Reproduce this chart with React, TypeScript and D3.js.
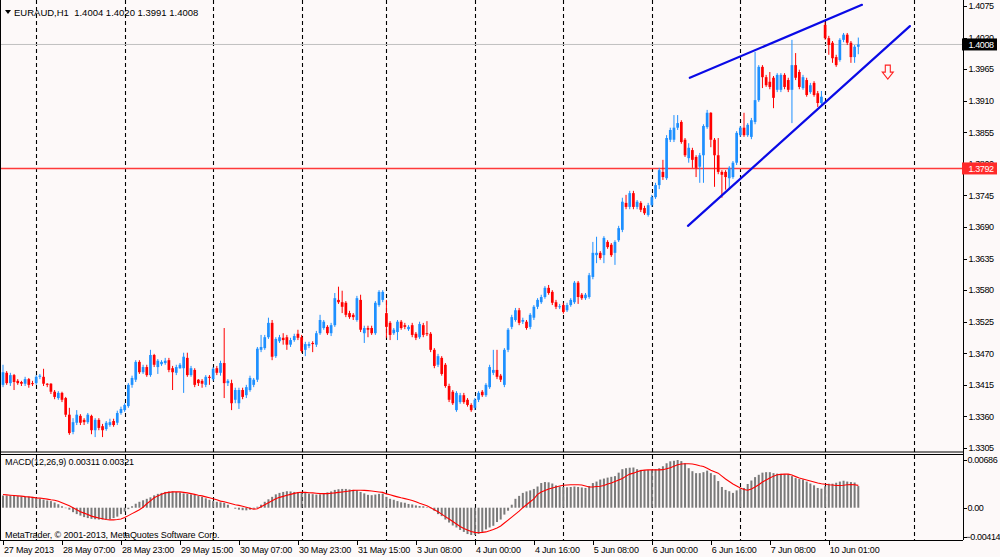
import React, { useEffect, useRef } from "react";
import * as d3 from "d3";

// EURAUD H1 bars, left to right
const opens = [
  1.3415, 1.3436, 1.3418, 1.3432, 1.3422, 1.342, 1.3417, 1.3425, 1.3418, 1.3418,
  1.3429, 1.3429, 1.3417, 1.3417, 1.3403, 1.3392, 1.3401, 1.3392, 1.3363, 1.3333,
  1.3349, 1.3361, 1.3354, 1.335, 1.3361, 1.3336, 1.3354, 1.3343, 1.3338, 1.3345,
  1.3352, 1.3349, 1.3366, 1.3371, 1.3378, 1.3415, 1.3424, 1.3455, 1.3437, 1.3446,
  1.3432, 1.3467, 1.3446, 1.3451, 1.3453, 1.3458, 1.3444, 1.3436, 1.3444, 1.3444,
  1.3462, 1.3432, 1.3441, 1.3424, 1.3422, 1.3415, 1.3429, 1.3425, 1.3444, 1.3436,
  1.3453, 1.3418, 1.3418, 1.3389, 1.3383, 1.3406, 1.3397, 1.3406, 1.3415, 1.3424,
  1.3476, 1.3479, 1.3498, 1.3523, 1.3465, 1.3491, 1.3497, 1.3498, 1.3485, 1.3493,
  1.3504, 1.3498, 1.3476, 1.3483, 1.3488, 1.3485, 1.3505, 1.3514, 1.3516, 1.3505,
  1.3519, 1.3563, 1.3559, 1.3558, 1.354, 1.3537, 1.3528, 1.3563, 1.3505, 1.3514,
  1.3514, 1.3505, 1.3554, 1.3563, 1.354, 1.3523, 1.3505, 1.3507, 1.3525, 1.3519,
  1.3512, 1.3519, 1.3504, 1.3498, 1.3519, 1.3505, 1.3504, 1.3476, 1.345, 1.3462,
  1.345, 1.3413, 1.3403, 1.3371, 1.3385, 1.3397, 1.3389, 1.338, 1.3375, 1.3389,
  1.3403, 1.3397, 1.3411, 1.3436, 1.3441, 1.3431, 1.3415, 1.3476, 1.3516, 1.3528,
  1.3545, 1.3525, 1.3525, 1.3516, 1.3532, 1.3551, 1.3559, 1.3568, 1.3584, 1.3577,
  1.3559, 1.3551, 1.3554, 1.3545, 1.3554, 1.3559, 1.3593, 1.3572, 1.3566, 1.3568,
  1.3603, 1.3641, 1.3645, 1.3641, 1.3664, 1.3659, 1.3645, 1.3667, 1.3685, 1.3732,
  1.3725, 1.3749, 1.3725, 1.3732, 1.3723, 1.3711, 1.3728, 1.3742, 1.3763, 1.3786,
  1.3775, 1.3842, 1.3842, 1.3863, 1.3873, 1.3842, 1.381, 1.3824, 1.3812, 1.3795,
  1.3815, 1.3864, 1.3889, 1.3842, 1.3815, 1.3786, 1.3786, 1.3775, 1.3777, 1.3802,
  1.385, 1.3863, 1.385, 1.3847, 1.3873, 1.3911, 1.3969, 1.3951, 1.3943, 1.395,
  1.3929, 1.3929, 1.3955, 1.3946, 1.3929, 1.3972, 1.396, 1.3932, 1.3946, 1.3925,
  1.3941, 1.3923, 1.3906, 1.4042, 1.4019, 1.4011, 1.3986, 1.3981, 1.4016, 1.4025,
  1.4011, 1.3986, 1.4004,
];

const highs = [
  1.345, 1.3439, 1.3436, 1.3434, 1.3425, 1.3422, 1.3429, 1.3427, 1.3422, 1.3432,
  1.3434, 1.3443, 1.3418, 1.3418, 1.3406, 1.3404, 1.3403, 1.3394, 1.3375, 1.3357,
  1.3371, 1.3364, 1.3357, 1.3366, 1.3363, 1.3357, 1.3357, 1.3347, 1.3352, 1.3356,
  1.3356, 1.337, 1.3377, 1.3383, 1.3418, 1.3431, 1.3458, 1.3458, 1.345, 1.345,
  1.3476, 1.3469, 1.346, 1.3458, 1.3462, 1.3462, 1.3448, 1.345, 1.3453, 1.3471,
  1.3471, 1.3448, 1.3444, 1.3425, 1.3425, 1.3432, 1.3432, 1.3446, 1.3448, 1.3457,
  1.3514, 1.3425, 1.3424, 1.341, 1.341, 1.341, 1.3415, 1.3431, 1.3427, 1.3481,
  1.3502, 1.3502, 1.3532, 1.3528, 1.3498, 1.3502, 1.3505, 1.3502, 1.3497, 1.3504,
  1.3511, 1.3502, 1.349, 1.349, 1.3491, 1.3509, 1.3537, 1.3528, 1.3519, 1.3523,
  1.3575, 1.3586, 1.3579, 1.3561, 1.3544, 1.354, 1.357, 1.3572, 1.3518, 1.3518,
  1.3518, 1.3561, 1.358, 1.358, 1.3563, 1.3526, 1.3514, 1.3528, 1.3528, 1.3523,
  1.3519, 1.3523, 1.3507, 1.3525, 1.3523, 1.3526, 1.3507, 1.3479, 1.3469, 1.3465,
  1.3453, 1.3417, 1.3406, 1.3404, 1.3401, 1.3401, 1.3392, 1.3383, 1.3392, 1.3404,
  1.3406, 1.3418, 1.345, 1.3476, 1.3476, 1.3434, 1.3479, 1.3514, 1.3537, 1.3549,
  1.3549, 1.3532, 1.3528, 1.354, 1.3554, 1.3566, 1.3572, 1.3587, 1.3589, 1.358,
  1.3563, 1.3556, 1.3558, 1.3558, 1.3566, 1.3596, 1.3596, 1.3575, 1.3575, 1.361,
  1.3664, 1.3673, 1.3648, 1.3674, 1.3667, 1.3662, 1.3667, 1.3692, 1.3741, 1.3746,
  1.3753, 1.3753, 1.3737, 1.3735, 1.3727, 1.3732, 1.3746, 1.3767, 1.3793, 1.3807,
  1.385, 1.3863, 1.3885, 1.3885, 1.3876, 1.3845, 1.3836, 1.3828, 1.3815, 1.3819,
  1.3869, 1.3894, 1.389, 1.3845, 1.3845, 1.3789, 1.3789, 1.3796, 1.3805, 1.3857,
  1.3866, 1.3889, 1.3871, 1.388, 1.3995, 1.3972, 1.3972, 1.3955, 1.396, 1.3953,
  1.3958, 1.3958, 1.3958, 1.395, 1.4016, 1.3993, 1.3964, 1.3955, 1.395, 1.3941,
  1.3944, 1.3927, 1.3927, 1.4047, 1.4023, 1.4014, 1.399, 1.4019, 1.4028, 1.4028,
  1.4014, 1.4007, 1.402,
];

const lows = [
  1.3411, 1.3415, 1.3413, 1.3406, 1.3415, 1.3413, 1.3413, 1.341, 1.3413, 1.3415,
  1.3425, 1.3413, 1.3411, 1.3399, 1.339, 1.3389, 1.3385, 1.3359, 1.3328, 1.3329,
  1.3345, 1.3345, 1.3345, 1.3347, 1.3329, 1.3324, 1.3336, 1.3324, 1.3335, 1.3342,
  1.3342, 1.3345, 1.3363, 1.3368, 1.3375, 1.341, 1.342, 1.3434, 1.3434, 1.3429,
  1.3429, 1.3446, 1.3434, 1.3448, 1.345, 1.3437, 1.3406, 1.3432, 1.3443, 1.3401,
  1.3429, 1.3429, 1.3411, 1.3413, 1.341, 1.3411, 1.3415, 1.3422, 1.3432, 1.3431,
  1.3392, 1.3413, 1.3371, 1.3383, 1.3373, 1.339, 1.3392, 1.3403, 1.3411, 1.342,
  1.3472, 1.3476, 1.3495, 1.3458, 1.3462, 1.3488, 1.3485, 1.3476, 1.3481, 1.349,
  1.3493, 1.3471, 1.3465, 1.3479, 1.3472, 1.3481, 1.3502, 1.3511, 1.3502, 1.35,
  1.3516, 1.3556, 1.354, 1.3533, 1.353, 1.3528, 1.3525, 1.3507, 1.3488, 1.3498,
  1.3502, 1.3502, 1.3551, 1.3559, 1.3497, 1.3493, 1.3502, 1.3493, 1.3511, 1.3512,
  1.3509, 1.3498, 1.3493, 1.3495, 1.3498, 1.35, 1.3472, 1.3444, 1.3446, 1.3431,
  1.341, 1.3385, 1.338, 1.3368, 1.3382, 1.3382, 1.3377, 1.3368, 1.3371, 1.3385,
  1.3394, 1.3394, 1.3408, 1.3432, 1.3425, 1.342, 1.3411, 1.3472, 1.3512, 1.3525,
  1.3519, 1.3521, 1.3511, 1.3512, 1.3528, 1.3547, 1.3556, 1.3565, 1.3572, 1.3554,
  1.3547, 1.3547, 1.3539, 1.3542, 1.3551, 1.3556, 1.3556, 1.3563, 1.3563, 1.3565,
  1.3599, 1.3627, 1.3633, 1.3627, 1.3652, 1.3638, 1.3624, 1.3664, 1.3681, 1.3721,
  1.3721, 1.3721, 1.3721, 1.3716, 1.3711, 1.3708, 1.3725, 1.3739, 1.3756, 1.3772,
  1.3772, 1.3838, 1.3838, 1.3859, 1.3835, 1.3812, 1.3802, 1.3793, 1.3777, 1.3767,
  1.3767, 1.3861, 1.3829, 1.376, 1.3782, 1.3741, 1.3755, 1.3755, 1.3774, 1.3798,
  1.3847, 1.3847, 1.3847, 1.3843, 1.3869, 1.3908, 1.3932, 1.3934, 1.393, 1.3897,
  1.3925, 1.3925, 1.393, 1.3925, 1.3871, 1.3946, 1.393, 1.3929, 1.3917, 1.3922,
  1.3917, 1.3899, 1.3903, 1.4016, 1.399, 1.3976, 1.3969, 1.3978, 1.4012, 1.4007,
  1.3976, 1.3976, 1.3991,
];

const closes = [
  1.3437, 1.3418, 1.3432, 1.342, 1.3418, 1.3417, 1.3425, 1.3415, 1.3417, 1.3429,
  1.3431, 1.3417, 1.3415, 1.3403, 1.3394, 1.3401, 1.3389, 1.3363, 1.3331, 1.335,
  1.3363, 1.3349, 1.335, 1.3363, 1.3336, 1.3354, 1.334, 1.3336, 1.3349, 1.335,
  1.3345, 1.3366, 1.3373, 1.338, 1.3415, 1.3427, 1.3455, 1.3437, 1.3446, 1.3432,
  1.3467, 1.345, 1.3457, 1.3455, 1.3457, 1.3441, 1.3437, 1.3446, 1.345, 1.3464,
  1.3432, 1.3444, 1.3415, 1.3418, 1.3417, 1.3429, 1.3427, 1.3443, 1.3436, 1.3453,
  1.3418, 1.3422, 1.3383, 1.3406, 1.3406, 1.3394, 1.3411, 1.3427, 1.3424, 1.3478,
  1.3481, 1.3498, 1.3523, 1.3464, 1.3495, 1.3498, 1.3493, 1.3485, 1.3493, 1.35,
  1.3497, 1.3474, 1.3486, 1.3486, 1.3486, 1.3505, 1.3528, 1.3525, 1.3505, 1.3519,
  1.3566, 1.3559, 1.3551, 1.3537, 1.3533, 1.3533, 1.3566, 1.3511, 1.3514, 1.3511,
  1.3505, 1.3558, 1.3577, 1.3577, 1.3516, 1.3502, 1.3511, 1.3525, 1.3514, 1.3516,
  1.3516, 1.3502, 1.3497, 1.3521, 1.3502, 1.3504, 1.3476, 1.3448, 1.3465, 1.3434,
  1.3413, 1.3389, 1.3383, 1.3401, 1.3397, 1.3385, 1.338, 1.3371, 1.3389, 1.3401,
  1.3397, 1.3415, 1.3446, 1.3441, 1.3429, 1.3424, 1.3476, 1.3511, 1.3533, 1.3545,
  1.3523, 1.3528, 1.3514, 1.3537, 1.3551, 1.3563, 1.3568, 1.3584, 1.3575, 1.3558,
  1.3551, 1.3552, 1.3542, 1.3554, 1.3563, 1.3593, 1.3568, 1.3566, 1.3572, 1.3606,
  1.3645, 1.3645, 1.3636, 1.3671, 1.3655, 1.3641, 1.3664, 1.3688, 1.3734, 1.3725,
  1.3749, 1.3725, 1.3734, 1.372, 1.3714, 1.3728, 1.3742, 1.3763, 1.3789, 1.3777,
  1.3845, 1.3859, 1.3863, 1.3871, 1.3838, 1.3815, 1.3828, 1.3807, 1.3793, 1.3815,
  1.3866, 1.3889, 1.3842, 1.3815, 1.3786, 1.3781, 1.3777, 1.3793, 1.3802, 1.3854,
  1.3863, 1.385, 1.3868, 1.3876, 1.3911, 1.3969, 1.3951, 1.3937, 1.3934, 1.3915,
  1.3955, 1.3955, 1.3934, 1.3929, 1.3972, 1.395, 1.3934, 1.3951, 1.392, 1.3937,
  1.392, 1.3906, 1.3917, 1.4019, 1.4007, 1.3984, 1.3972, 1.4016, 1.4025, 1.4011,
  1.3986, 1.4004, 1.4008,
];

// MACD(12,26,9): main (histogram) and signal (red line)
const macdMain = [
  0.00175, 0.00175, 0.00175, 0.0017, 0.00166, 0.00163, 0.00159, 0.00156, 0.00156, 0.00142,
  0.00128, 0.00118, 0.00104, 0.00095, 0.00075, 0.0005, 0.00021, -0.00007, -0.00028, -0.00064,
  -0.00092, -0.00114, -0.00135, -0.00149, -0.0016, -0.00166, -0.0017, -0.0017, -0.00168, -0.00163,
  -0.00149, -0.00128, -0.00092, -0.00057, -0.00021, 0.00021, 0.00057, 0.00085, 0.00107, 0.00128,
  0.00149, 0.00178, 0.00199, 0.00213, 0.00227, 0.00234, 0.00234, 0.00227, 0.0022, 0.00206,
  0.00199, 0.00192, 0.00185, 0.0017, 0.00156, 0.00135, 0.00114, 0.00095, 0.00085, 0.00078,
  0.00071, 0.00043, 0.0, -0.00014, -0.00028, -0.00036, -0.00038, -0.00028, -0.00014, 0.00014,
  0.00043, 0.00085, 0.00121, 0.00156, 0.00192, 0.00213, 0.00227, 0.00237, 0.00234, 0.00227,
  0.00223, 0.00217, 0.00213, 0.00203, 0.00195, 0.00189, 0.00192, 0.00203, 0.0022, 0.00234,
  0.00256, 0.00266, 0.0027, 0.0027, 0.00263, 0.00256, 0.00251, 0.00227, 0.00206, 0.00185,
  0.0018, 0.00189, 0.00199, 0.00203, 0.00156, 0.00128, 0.00114, 0.00095, 0.00078, 0.00071,
  0.00054, 0.00047, 0.00033, 0.00024, 0.00021, 0.00007, -0.00007, -0.00043, -0.00092, -0.00121,
  -0.0017, -0.00213, -0.00256, -0.00284, -0.0032, -0.00348, -0.00379, -0.00393, -0.00391, -0.00376,
  -0.00348, -0.00312, -0.00284, -0.0026, -0.00206, -0.0017, -0.00099, -0.00043, 0.00043, 0.00128,
  0.0017, 0.00213, 0.00234, 0.00249, 0.0027, 0.00305, 0.00355, 0.00369, 0.00365, 0.00348,
  0.0032, 0.00305, 0.00298, 0.00294, 0.00298, 0.00305, 0.00298, 0.00291, 0.00284, 0.00312,
  0.00355, 0.00376, 0.00405, 0.00419, 0.00433, 0.00444, 0.00454, 0.00504, 0.00554, 0.00568,
  0.00575, 0.00578, 0.00554, 0.00544, 0.0054, 0.0054, 0.00547, 0.00554, 0.00568, 0.00596,
  0.00639, 0.00667, 0.00675, 0.00686, 0.0067, 0.00639, 0.00568, 0.00525, 0.00497, 0.00497,
  0.00511, 0.00533, 0.00497, 0.00469, 0.00383, 0.00298, 0.00256, 0.00237, 0.00213, 0.00249,
  0.00277, 0.00284, 0.00341, 0.00391, 0.0044, 0.00473, 0.00504, 0.00511, 0.00511, 0.00497,
  0.0049, 0.00487, 0.00483, 0.00483, 0.00454, 0.00426, 0.00412, 0.00405, 0.00376, 0.00348,
  0.00322, 0.00284, 0.00274, 0.00308, 0.00345, 0.00345, 0.00359, 0.00376, 0.00388, 0.00376,
  0.00369, 0.00362, 0.00311,
];

const macdSignal = [
  0.00189, 0.00185, 0.0018, 0.00175, 0.0017, 0.00166, 0.0016, 0.00156, 0.00149, 0.00142,
  0.00138, 0.00132, 0.00124, 0.00114, 0.00107, 0.00092, 0.00071, 0.0005, 0.00028, 0.0,
  -0.00028, -0.00057, -0.00078, -0.00099, -0.00121, -0.00135, -0.00149, -0.0016, -0.0017, -0.00175,
  -0.00175, -0.0017, -0.00163, -0.00142, -0.00114, -0.00085, -0.00057, -0.00028, 0.00007, 0.00057,
  0.00099, 0.00142, 0.0017, 0.00192, 0.00213, 0.0022, 0.00227, 0.0023, 0.00227, 0.0022,
  0.00213, 0.00203, 0.00192, 0.0018, 0.0017, 0.00156, 0.00142, 0.00128, 0.00114, 0.00095,
  0.00085, 0.00071, 0.00057, 0.00043, 0.00033, 0.00021, 0.00007, -0.00007, -0.00021, -0.00014,
  0.00014, 0.00043, 0.00071, 0.00099, 0.00128, 0.00149, 0.00163, 0.00178, 0.00192, 0.00206,
  0.00217, 0.00223, 0.0022, 0.00216, 0.00213, 0.00209, 0.00203, 0.00202, 0.00203, 0.00209,
  0.00213, 0.0022, 0.00227, 0.00234, 0.00241, 0.00249, 0.00251, 0.00251, 0.00249, 0.00246,
  0.00241, 0.00234, 0.00227, 0.0022, 0.00199, 0.00185, 0.0017, 0.00156, 0.00142, 0.00131,
  0.00118, 0.00104, 0.00085, 0.00064, 0.00047, 0.00028, 0.0, -0.00028, -0.00057, -0.00092,
  -0.00128, -0.00163, -0.00199, -0.00234, -0.0027, -0.00298, -0.00322, -0.00341, -0.00355, -0.00359,
  -0.00355, -0.00348, -0.00331, -0.00312, -0.00291, -0.00263, -0.0022, -0.00178, -0.00135, -0.00092,
  -0.0005, 0.0, 0.00043, 0.00085, 0.00128, 0.00192, 0.00227, 0.00249, 0.0027, 0.00284,
  0.00298, 0.00312, 0.00322, 0.00327, 0.00331, 0.00331, 0.00331, 0.00327, 0.00312, 0.00298,
  0.00298, 0.00305, 0.00308, 0.0032, 0.00341, 0.00355, 0.00376, 0.00398, 0.00419, 0.00454,
  0.00483, 0.00497, 0.00518, 0.00533, 0.0054, 0.00544, 0.00544, 0.00544, 0.00544, 0.00547,
  0.00561, 0.00575, 0.00596, 0.00618, 0.00629, 0.00632, 0.00632, 0.00629, 0.00618, 0.00604,
  0.00592, 0.00568, 0.0054, 0.00518, 0.00497, 0.00454, 0.00412, 0.00376, 0.00341, 0.00312,
  0.00284, 0.00263, 0.00251, 0.0027, 0.00298, 0.00331, 0.00369, 0.00398, 0.00426, 0.00454,
  0.00473, 0.00479, 0.00483, 0.00483, 0.00469, 0.00447, 0.00426, 0.00412, 0.00398, 0.00383,
  0.00369, 0.00355, 0.00345, 0.00338, 0.00331, 0.00327, 0.0032, 0.0032, 0.00324, 0.00331,
  0.00334, 0.00331, 0.00321,
];

const timeLabels = [
  "27 May 2013", "28 May 07:00", "28 May 23:00", "29 May 15:00", "30 May 07:00",
  "30 May 23:00", "31 May 15:00", "3 Jun 08:00", "4 Jun 00:00", "4 Jun 16:00",
  "5 Jun 08:00", "6 Jun 00:00", "6 Jun 16:00", "7 Jun 08:00", "10 Jun 01:00",
];
const timeLabelBars = [0, 16, 32, 48, 64, 80, 96, 112, 128, 144, 160, 176, 192, 208, 224];
const dayStartBars = [9, 33, 57, 81, 104, 128, 152, 176, 200, 223, 247];

const priceTicks = [
  1.4075, 1.402, 1.3965, 1.391, 1.3855, 1.38, 1.3745, 1.369, 1.3635, 1.358,
  1.3525, 1.347, 1.3415, 1.336, 1.3305,
];
const macdTicks = [0.00686, 0, -0.00414];

const bidPrice = 1.4008;
const levelPrice = 1.3792;
const trendLines = [
  { from: [186.3, 1.395], to: [233, 1.4077] },
  { from: [185.8, 1.3692], to: [246, 1.404] },
];
const arrowMark = { bar: 240, price: 1.3972 };

const W = 1000;
const H = 557;
const AXIS_X = 963;
const MAIN_BOTTOM = 451.5;
const SUB_TOP = 454;
const SUB_BOTTOM = 540;
const BG = "#fdf9f9";
const UP = "#1e90ff";
const DOWN = "#ff0000";
const FONT = "'Liberation Sans', Arial, sans-serif";

export default function App() {
  const svgRef = useRef<SVGSVGElement | null>(null);

  useEffect(() => {
    if (!svgRef.current) return;
    const svg = d3.select(svgRef.current);
    svg.selectAll("*").remove();

    const x = d3.scaleLinear().domain([0, 260.4]).range([3, AXIS_X]);
    const y = d3.scaleLinear().domain([1.3305, 1.4075]).range([448, 6]);
    const ym = d3.scaleLinear().domain([-0.00414, 0.00686]).range([536.5, 460]);
    const fmt4 = d3.format(".4f");

    svg.append("rect").attr("width", W).attr("height", H).attr("fill", BG);

    const defs = svg.append("defs");
    defs.append("clipPath").attr("id", "mainClip")
      .append("rect").attr("x", 1).attr("y", 0).attr("width", AXIS_X - 1).attr("height", MAIN_BOTTOM);
    defs.append("clipPath").attr("id", "subClip")
      .append("rect").attr("x", 1).attr("y", SUB_TOP).attr("width", AXIS_X - 1).attr("height", SUB_BOTTOM - SUB_TOP);

    // day separators
    svg.append("g").selectAll(".vgrid").data(dayStartBars).join("line")
      .attr("class", "vgrid")
      .attr("x1", (d) => Math.round(x(d)) + 0.5).attr("x2", (d) => Math.round(x(d)) + 0.5)
      .attr("y1", 0).attr("y2", SUB_BOTTOM)
      .attr("stroke", "#000").attr("stroke-width", 1.1).attr("stroke-dasharray", "4,3");

    const main = svg.append("g").attr("clip-path", "url(#mainClip)");

    // bid line and level line
    main.append("line").attr("x1", 0).attr("x2", AXIS_X)
      .attr("y1", y(bidPrice)).attr("y2", y(bidPrice))
      .attr("stroke", "#c0c0c0").attr("stroke-width", 1);
    main.append("line").attr("x1", 0).attr("x2", AXIS_X)
      .attr("y1", y(levelPrice)).attr("y2", y(levelPrice))
      .attr("stroke", "#ff3a3a").attr("stroke-width", 1.6);

    const bars = closes.map((c, i) => ({ i, o: opens[i], h: highs[i], l: lows[i], c }));
    const col = (d: { o: number; c: number }) => (d.c >= d.o ? UP : DOWN);

    main.selectAll(".wick").data(bars).join("line")
      .attr("class", "wick")
      .attr("x1", (d) => x(d.i)).attr("x2", (d) => x(d.i))
      .attr("y1", (d) => y(d.h)).attr("y2", (d) => y(d.l))
      .attr("stroke", col).attr("stroke-width", 1);

    main.selectAll(".body").data(bars).join("rect")
      .attr("class", "body")
      .attr("x", (d) => x(d.i) - 1.35).attr("width", 2.7)
      .attr("y", (d) => Math.min(y(d.o), y(d.c)))
      .attr("height", (d) => Math.max(1, Math.abs(y(d.o) - y(d.c))))
      .attr("fill", col);

    // channel lines
    main.selectAll(".trend").data(trendLines).join("line")
      .attr("class", "trend")
      .attr("x1", (d) => x(d.from[0])).attr("y1", (d) => y(d.from[1]))
      .attr("x2", (d) => x(d.to[0])).attr("y2", (d) => y(d.to[1]))
      .attr("stroke", "#0a0ae6").attr("stroke-width", 2.2).attr("stroke-linecap", "round");

    // down arrow
    const ax = x(arrowMark.bar);
    const ay = y(arrowMark.price);
    main.append("path")
      .attr("d", `M${ax - 2.5},${ay} h5 v7 h3 l-5.5,7 l-5.5,-7 h3 z`)
      .attr("fill", BG).attr("stroke", "#ff2020").attr("stroke-width", 1.1);

    // MACD window
    const sub = svg.append("g").attr("clip-path", "url(#subClip)");
    sub.selectAll(".hist").data(macdMain).join("rect")
      .attr("class", "hist")
      .attr("x", (_, i) => x(i) - 1).attr("width", 2)
      .attr("y", (d) => Math.min(ym(0), ym(d)))
      .attr("height", (d) => Math.abs(ym(d) - ym(0)))
      .attr("fill", "#7a7a7a");

    const signalLine = d3.line<number>().x((_, i) => x(i)).y((d) => ym(d));
    sub.append("path").attr("d", signalLine(macdSignal))
      .attr("fill", "none").attr("stroke", "#ff0000").attr("stroke-width", 1.1);

    // frames
    const frame = svg.append("g").attr("stroke", "#000").attr("stroke-width", 1).attr("fill", "none");
    frame.append("line").attr("x1", 0.5).attr("x2", 0.5).attr("y1", 0).attr("y2", SUB_BOTTOM);
    frame.append("line").attr("x1", AXIS_X + 0.5).attr("x2", AXIS_X + 0.5).attr("y1", 0).attr("y2", SUB_BOTTOM);
    frame.append("line").attr("x1", 0).attr("x2", AXIS_X).attr("y1", MAIN_BOTTOM + 0.5).attr("y2", MAIN_BOTTOM + 0.5);
    frame.append("line").attr("x1", 0).attr("x2", AXIS_X).attr("y1", SUB_TOP + 0.5).attr("y2", SUB_TOP + 0.5);
    frame.append("line").attr("x1", 0).attr("x2", AXIS_X).attr("y1", SUB_BOTTOM + 0.5).attr("y2", SUB_BOTTOM + 0.5);

    // price axis
    const pa = svg.append("g").attr("font-family", FONT).attr("font-size", 9)
      .attr("letter-spacing", -0.4).attr("fill", "#000");
    pa.selectAll(".ptick").data(priceTicks).join("line")
      .attr("class", "ptick")
      .attr("x1", AXIS_X).attr("x2", AXIS_X + 4)
      .attr("y1", (d) => Math.round(y(d)) + 0.5).attr("y2", (d) => Math.round(y(d)) + 0.5)
      .attr("stroke", "#000");
    pa.selectAll(".plabel").data(priceTicks).join("text")
      .attr("class", "plabel")
      .attr("x", AXIS_X + 5.5).attr("y", (d) => y(d) + 3.3)
      .text((d) => fmt4(d));

    const tag = (price: number, fill: string) => {
      const g = svg.append("g");
      g.append("rect").attr("x", AXIS_X - 1).attr("y", y(price) - 6)
        .attr("width", 35).attr("height", 12).attr("fill", fill);
      g.append("text").attr("x", AXIS_X + 5.5).attr("y", y(price) + 3.3)
        .attr("font-family", FONT).attr("font-size", 9).attr("letter-spacing", -0.4)
        .attr("fill", "#fff")
        .text(fmt4(price));
    };
    tag(bidPrice, "#000");
    tag(levelPrice, "#ff2a2a");

    // MACD axis
    const ma = svg.append("g").attr("font-family", FONT).attr("font-size", 9)
      .attr("letter-spacing", -0.4).attr("fill", "#000");
    ma.selectAll(".mtick").data(macdTicks).join("line")
      .attr("class", "mtick")
      .attr("x1", AXIS_X).attr("x2", AXIS_X + 4)
      .attr("y1", (d) => Math.round(ym(d)) + 0.5).attr("y2", (d) => Math.round(ym(d)) + 0.5)
      .attr("stroke", "#000");
    ma.selectAll(".mlabel").data(macdTicks).join("text")
      .attr("class", "mlabel")
      .attr("x", (d) => (d < 0 ? AXIS_X + 2.5 : AXIS_X + 4.5)).attr("y", (d) => ym(d) + 3.3)
      .text((d) => (d === 0 ? "0.00" : d3.format(".5f")(d)));

    // time axis
    const ta = svg.append("g").attr("font-family", FONT).attr("font-size", 9)
      .attr("letter-spacing", -0.2).attr("fill", "#000");
    ta.selectAll(".ttick").data(timeLabelBars).join("line")
      .attr("class", "ttick")
      .attr("x1", (d) => Math.round(x(d)) + 0.5).attr("x2", (d) => Math.round(x(d)) + 0.5)
      .attr("y1", SUB_BOTTOM).attr("y2", SUB_BOTTOM + 5)
      .attr("stroke", "#000");
    ta.selectAll(".tlabel").data(timeLabelBars).join("text")
      .attr("class", "tlabel")
      .attr("x", (d) => x(d) + 1).attr("y", 552.5)
      .text((_, i) => timeLabels[i]);

    // window titles
    svg.append("path").attr("d", "M5,10 h6 l-3,4 z").attr("fill", "#000");
    svg.append("text").attr("x", 14).attr("y", 15.5)
      .attr("font-family", FONT).attr("font-size", 9.5).attr("fill", "#000")
      .style("white-space", "pre")
      .text("EURAUD,H1  1.4004 1.4020 1.3991 1.4008");
    svg.append("text").attr("x", 5).attr("y", 465)
      .attr("font-family", FONT).attr("font-size", 9).attr("letter-spacing", -0.1).attr("fill", "#000")
      .text(`MACD(12,26,9) ${macdMain[macdMain.length - 1].toFixed(5)} ${macdSignal[macdSignal.length - 1].toFixed(5)}`);
    svg.append("text").attr("x", 5).attr("y", 537.5)
      .attr("font-family", FONT).attr("font-size", 9).attr("letter-spacing", -0.1).attr("fill", "#000")
      .text("MetaTrader, © 2001-2013, MetaQuotes Software Corp.");
  }, []);

  return (
    <svg
      ref={svgRef}
      width={W}
      height={H}
      style={{ position: "absolute", left: 0, top: 0, display: "block" }}
    />
  );
}
